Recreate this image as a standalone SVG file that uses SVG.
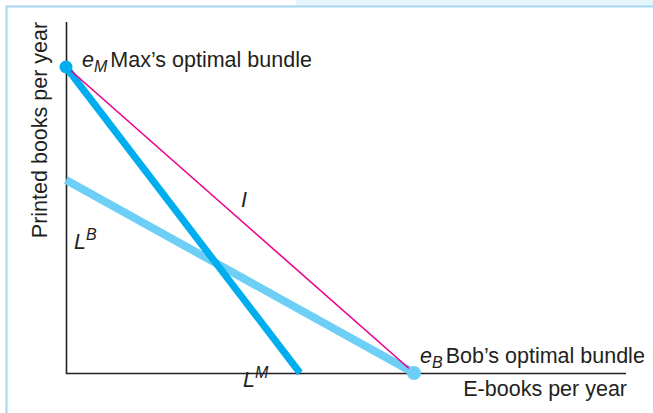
<svg xmlns="http://www.w3.org/2000/svg" width="653" height="413" viewBox="0 0 653 413">
<style>
text{font-family:"Liberation Sans",Arial,sans-serif;font-size:21.5px;fill:#231f20}
.it{font-style:italic}
.sub{font-size:16px;font-style:italic}
.frame{stroke:#a6d5f2;stroke-width:2;fill:none}
.axis{stroke:#231f20;stroke-width:1.6;fill:none}
</style>
<rect x="296" y="0" width="357" height="6" fill="#e6f5fd"/>
<path class="frame" d="M6.5,413 V6.5 H653"/>
<g id="axes">
<path class="axis" d="M66.5,22 V373.5 H626"/>
<text x="627" y="396" text-anchor="end">E-books per year</text>
<text transform="translate(47,130) rotate(-90)" text-anchor="middle">Printed books per year</text>
</g>
<g id="connectors">
<line id="LB" x1="66" y1="180" x2="414" y2="373" stroke="#6dcff6" stroke-width="8"/>
<line id="LM" x1="66" y1="67" x2="300" y2="373" stroke="#00aeef" stroke-width="7"/>
<line id="I" x1="69" y1="69" x2="413" y2="372" stroke="#ec008c" stroke-width="1.6"/>
</g>
<g id="eM">
<circle cx="66" cy="67" r="6.5" fill="#00aeef"/>
<text x="82" y="67"><tspan class="it">e</tspan><tspan class="sub" dy="5">M</tspan><tspan dy="-5" dx="3">Max’s optimal bundle</tspan></text>
</g>
<g id="eB">
<circle cx="414" cy="373" r="7" fill="#6dcff6"/>
<text x="420" y="363"><tspan class="it">e</tspan><tspan class="sub" dy="5">B</tspan><tspan dy="-5" dx="3">Bob’s optimal bundle</tspan></text>
</g>
<g id="labels">
<text x="74" y="249" class="it">L<tspan class="sub" dy="-9">B</tspan></text>
<text x="241" y="207" class="it">I</text>
<text x="243" y="387" class="it">L<tspan class="sub" dy="-9">M</tspan></text>
</g>
</svg>
